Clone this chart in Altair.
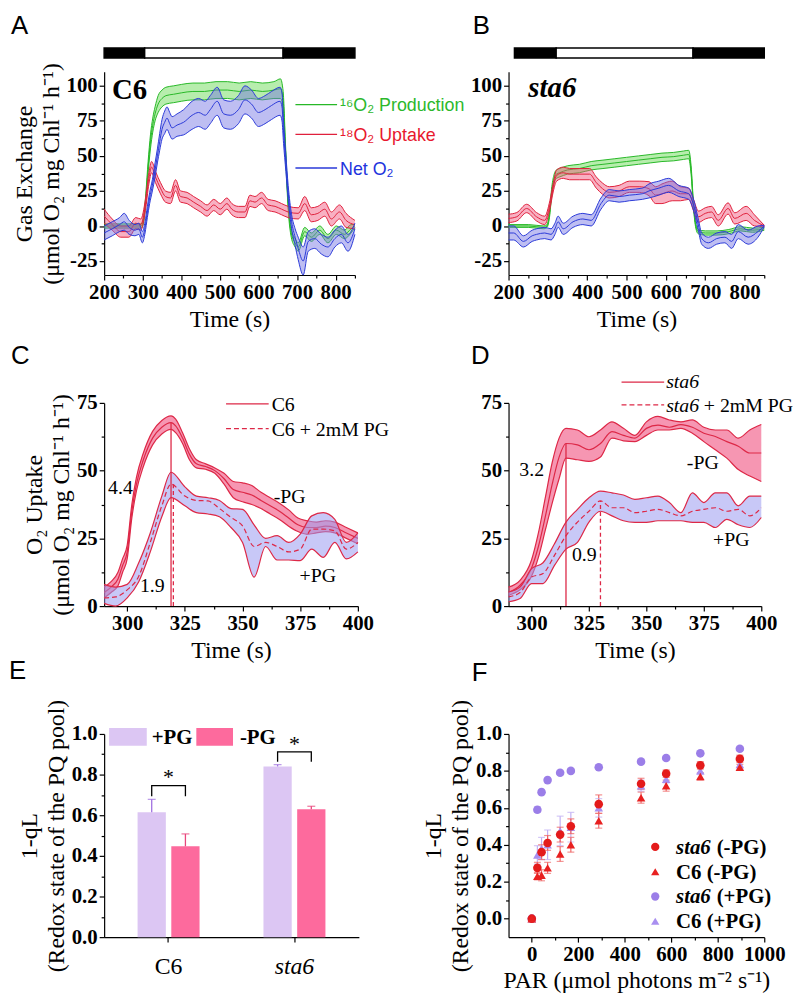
import altair as alt
import pandas as pd

SERIF = "Liberation Serif"
SANS = "Liberation Sans"

# ============================ DATA ============================
# ---- Panel A (C6) : time (s), mean, half-width of each band ----
a_g_t = [200, 250, 296, 302, 308, 314, 320, 326, 332, 340, 350, 360, 380, 400, 430, 460, 490, 520, 550, 580,
         610, 640, 657, 664, 670, 677, 685, 695, 703, 720, 737, 759, 780, 802, 823, 840, 850]
a_g_m = [0, 0, 0, 4, 20, 42, 60, 72, 80, 87, 91, 93, 94, 95, 96, 96, 97, 97, 96, 97,
         96, 97, 98, 90, 55, 15, -5, -12, -15, -4, -8, -3, -9, -3, -6, -2, 0]
a_g_h = [1.5, 1.5, 1.5, 2, 3, 4, 5, 5, 5, 6, 6, 6, 6, 6, 6, 6, 6, 6, 6, 6,
         6, 6, 7, 6, 4, 3, 3, 3, 3, 3, 3, 3, 3, 3, 3, 3, 1]

a_b_t = [200, 221, 240, 252, 265, 280, 290, 299, 306, 312, 318, 325, 332, 338, 344, 350, 357, 363, 370, 376,
         389, 406, 428, 445, 462, 475, 493, 510, 527, 548, 565, 582, 600, 617, 634, 656, 661, 665, 671, 677,
         686, 695, 703, 716, 729, 746, 763, 780, 798, 815, 832, 850]
a_b_m = [-5, -2, 1, 3, -1, -3, -2, -8, -1, 10, 20, 29, 40, 50, 60, 69, 74, 77, 73, 70,
         72, 74, 79, 81, 79, 83, 89, 80, 79, 83, 90, 87, 81, 83, 86, 89, 85, 67, 45, 24,
         3, -8, -16, -25, -11, -9, -13, -15, -9, -6, -12, -2]
a_b_h = [5, 5, 5, 6, 5, 4, 4, 4, 4, 4, 4, 4, 5, 5, 6, 7, 8, 8, 8, 8,
         8, 9, 10, 10, 10, 10, 10, 10, 10, 10, 10, 10, 10, 10, 10, 10, 10, 8, 6, 5,
         5, 6, 8, 10, 7, 7, 7, 7, 6, 6, 6, 4]

a_r_t = [200, 221, 243, 264, 282, 295, 307, 316, 323, 333, 346, 359, 372, 385, 398, 415, 432, 450, 467, 484,
         501, 518, 531, 548, 565, 578, 591, 608, 625, 643, 660, 677, 703, 720, 737, 754, 772, 789, 810, 827, 850]
a_r_m = [7, 1, -4, -4, 2, 1, 15, 34, 42, 35, 27, 21, 20, 29, 21, 20, 17, 14, 11, 15,
         12, 16, 12, 10, 10, 18, 17, 20, 15, 14, 12, 10, 9, 16, 8, 9, 12, 5, 10, 4, 1]
a_r_h = [5, 4, 4, 4, 4, 4, 4, 4, 4, 4, 4, 4, 4, 4, 4, 4, 4, 4, 4, 4,
         4, 4, 4, 4, 4, 4, 4, 4, 4, 4, 4, 4, 4, 5, 5, 5, 5, 5, 5, 5, 3]

# ---- Panel B (sta6) ----
b_g_t = [200, 250, 290, 298, 304, 310, 316, 322, 330, 350, 380, 410, 440, 470, 500, 530, 560, 590, 620, 645,
         658, 664, 670, 676, 682, 700, 730, 760, 790, 820, 850]
b_g_m = [0, 0, -1, 0, 8, 25, 34, 37, 38, 40, 41, 43, 44, 45, 46, 47, 48, 49, 49.5, 50.5,
         51, 40, 15, 0, -4, -5, -5, -4, -2, -3, -2]
b_g_h = [1, 1, 1, 1, 2, 3, 3, 3, 3, 3, 3, 3, 3, 3, 3, 3, 3, 3, 3, 3,
         3, 3, 2, 1.5, 1.5, 1.5, 1.5, 1.5, 1.5, 1.5, 1]

b_r_t = [200, 221, 246, 271, 292, 305, 314, 322, 339, 355, 381, 406, 423, 439, 456, 481, 507, 532, 557, 574,
         590, 616, 637, 658, 670, 683, 700, 716, 733, 758, 775, 804, 825, 850]
b_r_m = [5.4, 6.6, 12.5, 6.6, 4, 15, 28, 36, 38, 37, 37, 37, 31, 26.6, 24, 25, 28, 28, 26.6, 22,
         23, 25, 23, 23, 15, 6.6, 9, 10, 4, 12.5, 5.4, 9, 4, 0]
b_r_h = [3, 3, 3, 3, 3, 3, 3, 4, 4, 4, 4, 4, 4, 4, 4, 4, 4, 4, 5, 6,
         7, 7, 5, 4, 4, 4, 4, 4, 4, 4, 4, 5, 4, 0.5]

b_b_t = [200, 213, 238, 260, 271, 292, 308, 318, 326, 339, 364, 389, 410, 435, 456, 481, 507, 540, 557, 582,
         607, 633, 658, 667, 675, 683, 691, 708, 729, 750, 767, 784, 809, 834, 850]
b_b_m = [-5, -5, -11, -7, -6, -5, -6, -2, 3, -2, 3, 5, 4, 16, 22, 21, 22, 23, 25, 27,
         29, 25, 23, 18, 10, 0, -9, -12, -9, -8, -11, -4, -8, -4, 0]
b_b_h = [5, 5, 4, 4, 4, 4, 4, 4, 4, 4, 4, 4, 4, 4, 4, 4, 4, 4, 5, 5,
         5, 4, 4, 4, 4, 4, 4, 4, 4, 4, 5, 5, 5, 4, 0.5]

# dark / light bar above A and B
a_bar_t0 = [200, 305, 664]
a_bar_t1 = [305, 664, 850]
b_bar_t0 = [215, 321, 669]
b_bar_t1 = [321, 669, 850]
bar_fill = ["black", "white", "black"]

# ---- Panel C (C6 O2 uptake) ----
c_m_t = [290, 293, 296, 298, 300, 302, 304, 307, 311, 315, 319, 321, 324, 327, 330, 334, 338, 342, 346, 350,
         354, 358, 362, 366, 370, 374, 378, 382, 386, 390, 395, 400]
c_m_m = [5, 7, 10, 15, 20, 35, 45, 54, 62, 66, 67.7, 66.5, 62, 56, 52.5, 51.5, 50, 47, 43, 42,
         41, 39, 37, 35, 32.5, 30, 29, 29, 29.5, 29, 27, 25]
c_m_h = [2, 2, 2.5, 2.5, 2.5, 2.5, 2.5, 2.5, 2.5, 2.5, 2.5, 2.5, 2, 2, 1.5, 1, 1, 2, 3, 3.5,
         3.5, 3, 3, 3, 3, 2.5, 2.5, 2, 2, 2, 2, 2]
c_p_t = [290, 295, 300, 305, 310, 315, 319, 325, 330, 335, 340, 345, 350, 355, 360, 365, 370, 375, 380, 385, 390, 395, 400]
c_p_m = [3, 3.4, 6, 11, 23.5, 37, 45, 40.6, 39, 38.8, 36, 32.7, 29.6, 22, 23.5, 22, 20, 21, 28.4, 28.4, 27.8, 21, 23.5]
c_p_lo = [1, 0, 3, 9, 20, 33, 40, 37, 34.5, 34, 33, 29, 23.5, 10.7, 22, 17, 17, 16.8, 21, 18, 23.5, 17.4, 20]
c_p_hi = [8, 7, 8, 16, 27, 40.6, 49.4, 44, 40.6, 40, 39, 36, 35.7, 30, 25, 26, 23.5, 26.6, 33.3, 34.5, 32, 23.5, 27]
c_ann_txt = ["4.4", "1.9", "-PG", "+PG"]
c_ann_t = [291.7, 305.5, 363.5, 374.7]
c_ann_y = [41.4, 5.1, 38, 8.8]
c_vl_t = [319, 320]
c_vl_top = [67.7, 45]

# ---- Panel D (sta6 O2 uptake) ----
d_m_t = [290, 295, 300, 303, 306, 309, 312, 315, 320, 325, 330, 335, 340, 345, 350, 355, 360, 365, 370, 375,
         380, 385, 390, 395, 400]
d_m_m = [5, 7.7, 14, 22, 33, 45, 55, 60, 59.5, 57.7, 60, 64.4, 63, 62, 65.6, 66.8, 66, 67, 66, 63.8,
         62.6, 60.7, 59, 56.5, 56.5]
d_m_lo = [4, 6, 11, 18, 28, 38, 47, 54.6, 54, 53.4, 55, 62, 61, 60.7, 63, 65, 65, 65.6, 63.8, 60.7,
          57.7, 54.6, 50.4, 48, 46]
d_m_hi = [7, 9.5, 17, 27, 40, 53, 62, 65.6, 65, 62.5, 65, 68, 65.6, 63, 68, 70, 68.7, 68, 68.7, 66,
          65, 65, 62, 65, 67]
d_p_t = [290, 295, 300, 305, 310, 315, 320, 325, 330, 335, 340, 345, 350, 355, 360, 365, 370, 375, 380, 385, 390, 395, 400]
d_p_m = [3.4, 5, 10.7, 12, 18.7, 26, 31, 35, 38.8, 36.3, 36.3, 34.5, 35, 35.7, 34.5, 33.3, 35, 35.7, 36.3, 35, 35.7, 33.3, 36.3]
d_p_lo = [1.6, 2.8, 8.3, 8.3, 15, 21, 23.5, 31, 35, 33.3, 31.5, 30.9, 30.9, 31.5, 31.5, 31.5, 30.9, 30.9, 29, 32, 30, 29, 32.7]
d_p_hi = [5.2, 7, 13.8, 16, 23, 31, 35.7, 40, 42.4, 41.8, 41, 39.4, 40, 40.6, 38.2, 34.5, 41.8, 38.2, 41.8, 41.8, 37, 40.6, 40.6]
d_ann_txt = ["3.2", "0.9", "-PG", "+PG"]
d_ann_t = [294.7, 317.6, 367.6, 379]
d_ann_y = [48, 16.8, 50.5, 22]
d_vl_t = [315, 330]
d_vl_top = [60, 38.8]

# ---- Panel E (bars) ----
e_cat = ["C6", "C6", "sta6", "sta6"]
e_grp = ["+PG", "-PG", "+PG", "-PG"]
e_val = [0.615, 0.447, 0.840, 0.629]
e_err = [0.063, 0.061, 0.009, 0.015]
e_bar_col = ["#dcc6f3", "#fd6a9d", "#dcc6f3", "#fd6a9d"]
e_err_col = ["#a070e0", "#e8477c", "#a070e0", "#e8477c"]
br_cat = ["C6", "C6", "C6", "C6", "sta6", "sta6", "sta6", "sta6"]
br_grp = ["+PG", "+PG", "-PG", "-PG", "+PG", "+PG", "-PG", "-PG"]
br_y = [0.693, 0.746, 0.746, 0.693, 0.863, 0.912, 0.912, 0.863]
br_ord = [0, 1, 2, 3, 0, 1, 2, 3]
star_cat = ["C6", "sta6"]
star_y = [0.752, 0.918]

# ---- Panel F (1-qL vs PAR) ----
f_par = [0, 24, 42, 68, 122, 168, 288, 470, 578, 725, 895]
f_sta6_minus = [0, 0.275, 0.36, 0.41, 0.455, 0.50, 0.62, 0.73, 0.785, 0.83, 0.865]
f_sta6_minus_e = [0.01, 0.03, 0.04, 0.04, 0.04, 0.04, 0.05, 0.03, 0.02, 0.02, 0.02]
f_c6_minus = [0, 0.23, 0.235, 0.275, 0.35, 0.40, 0.53, 0.655, 0.72, 0.77, 0.82]
f_c6_minus_e = [0.01, 0.02, 0.03, 0.03, 0.04, 0.04, 0.04, 0.03, 0.03, 0.02, 0.015]
f_sta6_plus = [0, 0.59, 0.685, 0.75, 0.79, 0.80, 0.82, 0.85, 0.87, 0.895, 0.92]
f_sta6_plus_e = [0.01, 0.015, 0.01, 0.01, 0.01, 0.01, 0.01, 0.01, 0.01, 0.01, 0.01]
f_c6_plus = [0, 0.345, 0.38, 0.40, 0.475, 0.495, 0.60, 0.72, 0.755, 0.80, 0.835]
f_c6_plus_e = [0.01, 0.05, 0.06, 0.08, 0.08, 0.08, 0.05, 0.03, 0.02, 0.02, 0.02]

# axis ticks
a_xticks = [200, 250, 300, 350, 400, 450, 500, 550, 600, 650, 700, 750, 800, 850]
a_xlab = [200, 300, 400, 500, 600, 700, 800]
a_yticks = [-25, -12.5, 0, 12.5, 25, 37.5, 50, 62.5, 75, 87.5, 100]
a_ylab = [-25, 0, 25, 50, 75, 100]
c_xticks = [300, 312.5, 325, 337.5, 350, 362.5, 375, 387.5, 400]
c_xlab = [300, 325, 350, 375, 400]
c_yticks = [0, 12.5, 25, 37.5, 50, 62.5, 75]
c_ylab = [0, 25, 50, 75]
q_yticks = [0, 0.1, 0.2, 0.3, 0.4, 0.5, 0.6, 0.7, 0.8, 0.9, 1.0]
q_ylab = [0, 0.2, 0.4, 0.6, 0.8, 1.0]
f_xticks = [0, 100, 200, 300, 400, 500, 600, 700, 800, 900, 1000]
f_xlab = [0, 200, 400, 600, 800, 1000]

# ============================ HELPERS ============================
GREEN_L, GREEN_F = "#27b827", "#5fd84a"
RED_L, RED_F = "#e0203c", "#f05078"
BLUE_L, BLUE_F = "#2a3ad8", "#6f6fe2"
UP_RED, UP_PINK, UP_LAV = "#dd2847", "#f0507e", "#9a9af0"
LET = -94  # x position of panel letters (relative to the plot)

dummy = pd.DataFrame({"d": [0]})


def nums(v):
    return "[" + ",".join(repr(x) for x in v) + "]"


def lin_axis(values, labeled, fmt, title, **kw):
    test = f"indexof({nums(labeled)}, datum.value) >= 0"
    lab = (f"{test} ? (datum.value < 0 ? '-' + format(-datum.value, '{fmt}') : "
           f"format(datum.value, '{fmt}')) : ''")
    return alt.Axis(values=values, labelExpr=lab,
                    tickSize={"condition": {"test": test, "value": 5}, "value": 3},
                    title=title, **kw)


def make_xy(xdom, ydom, xaxis, yaxis):
    xs = alt.Scale(domain=xdom, nice=False, zero=False)
    ys = alt.Scale(domain=ydom, nice=False, zero=False)

    def X(f):
        return alt.X(f"{f}:Q", scale=xs, axis=xaxis)

    def Y(f):
        return alt.Y(f"{f}:Q", scale=ys, axis=yaxis)
    return X, Y


def band_layers(t, m, lo, hi, X, Y, fill, fop, stroke, sw=1.0, dash=None):
    df = pd.DataFrame({"t": t, "m": m, "lo": lo, "hi": hi})
    base = alt.Chart(df)
    out = [base.mark_area(color=fill, opacity=fop, interpolate="monotone")
           .encode(x=X("t"), y=Y("lo"), y2="hi")]
    for f in ("lo", "hi"):
        out.append(base.mark_line(color=stroke, strokeWidth=sw, interpolate="monotone")
                   .encode(x=X("t"), y=Y(f)))
    mk = dict(color=stroke, strokeWidth=sw, interpolate="monotone")
    if dash:
        mk["strokeDash"] = dash
    out.append(base.mark_line(**mk).encode(x=X("t"), y=Y("m")))
    return out


def mh(m, h):
    return [a - b for a, b in zip(m, h)], [a + b for a, b in zip(m, h)]


def ptext(txt, x, y, size, color="black", font=SERIF, weight="normal", style="normal",
          align="left", baseline="alphabetic"):
    return alt.Chart(dummy).mark_text(text=txt, fontSize=size, color=color, font=font,
                                      fontWeight=weight, fontStyle=style, align=align,
                                      baseline=baseline).encode(x=alt.value(x), y=alt.value(y))


def pline(x1, x2, y, color, sw=1.3, dash=None):
    mk = dict(color=color, strokeWidth=sw)
    if dash:
        mk["strokeDash"] = dash
    return alt.Chart(dummy).mark_rule(**mk).encode(x=alt.value(x1), x2=alt.value(x2), y=alt.value(y))


def light_bar(t0, t1, X):
    df = pd.DataFrame({"t0": t0, "t1": t1, "c": bar_fill})
    return alt.Chart(df).mark_rect(stroke="black", strokeWidth=1.5).encode(
        x=X("t0"), x2="t1", y=alt.value(-24), y2=alt.value(-14),
        color=alt.Color("c:N", scale=None))


GAS_TITLE = ["Gas Exchange", "(μmol O₂ mg Chl⁻¹ h⁻¹)"]
UP_TITLE = ["O₂ Uptake", "(μmol O₂ mg Chl⁻¹ h⁻¹)"]
Q_TITLE = ["1-qL", "(Redox state of the PQ pool)"]
XT_PAD = 5
YT_PAD = 3

# ============================ PANEL A ============================
XA, YA = make_xy([200, 850], [-35, 110],
                 lin_axis(a_xticks, a_xlab, "d", "Time (s)", titlePadding=XT_PAD),
                 lin_axis(a_yticks, a_ylab, "d", GAS_TITLE, titlePadding=YT_PAD))
layA = []
layA += band_layers(a_g_t, a_g_m, *mh(a_g_m, a_g_h), XA, YA, GREEN_F, 0.45, GREEN_L)
layA += band_layers(a_r_t, a_r_m, *mh(a_r_m, a_r_h), XA, YA, RED_F, 0.45, RED_L)
layA += band_layers(a_b_t, a_b_m, *mh(a_b_m, a_b_h), XA, YA, BLUE_F, 0.45, BLUE_L)
layA += [light_bar(a_bar_t0, a_bar_t1, XA),
         ptext("A", LET, -38, 26, font=SANS),
         ptext("C6", 8, 27, 29, weight="bold"),
         pline(193, 235, 33, GREEN_L), pline(193, 235, 63, RED_L), pline(193, 235, 97, BLUE_L),
         ptext("¹⁶O₂ Production", 238, 40, 18, color="#2cb82c", font=SANS),
         ptext("¹⁸O₂ Uptake", 238, 70, 18, color="#e8182e", font=SANS),
         ptext("Net O₂", 238, 104, 18, color="#2233dd", font=SANS)]
pA = alt.layer(*layA).properties(width=253, height=205)

# ============================ PANEL B ============================
XB, YB = make_xy([200, 850], [-35, 110],
                 lin_axis(a_xticks, a_xlab, "d", "Time (s)", titlePadding=XT_PAD),
                 lin_axis(a_yticks, a_ylab, "d", ""))
layB = []
layB += band_layers(b_g_t, b_g_m, *mh(b_g_m, b_g_h), XB, YB, GREEN_F, 0.45, GREEN_L)
layB += band_layers(b_r_t, b_r_m, *mh(b_r_m, b_r_h), XB, YB, RED_F, 0.45, RED_L)
layB += band_layers(b_b_t, b_b_m, *mh(b_b_m, b_b_h), XB, YB, BLUE_F, 0.45, BLUE_L)
layB += [light_bar(b_bar_t0, b_bar_t1, XB),
         ptext("B", -36, -38, 26, font=SANS),
         ptext("sta6", 20, 25, 29, weight="bold", style="italic")]
pB = alt.layer(*layB).properties(width=258, height=205)


# ============================ PANEL C / D ============================
def uptake_panel(mt, mm, mlo, mhi, pt, pm, plo, phi, ann_txt, ann_t, ann_y, vl_t, vl_top, ytitle):
    X, Y = make_xy([290, 400], [0, 75],
                   lin_axis(c_xticks, c_xlab, "d", "Time (s)", titlePadding=XT_PAD),
                   lin_axis(c_yticks, c_ylab, "d", ytitle, titlePadding=YT_PAD))
    lay = []
    lay += band_layers(mt, mm, mlo, mhi, X, Y, UP_PINK, 0.6, UP_RED, sw=1.2)
    lay += band_layers(pt, pm, plo, phi, X, Y, UP_LAV, 0.55, UP_RED, sw=1.2, dash=[5, 3])
    vdf = pd.DataFrame({"t": vl_t, "top": vl_top, "b": [0, 0]})
    lay.append(alt.Chart(vdf.iloc[[0]]).mark_rule(color=UP_RED, strokeWidth=1.3)
               .encode(x=X("t"), y=Y("b"), y2="top"))
    lay.append(alt.Chart(vdf.iloc[[1]]).mark_rule(color=UP_RED, strokeWidth=1.3, strokeDash=[4, 3])
               .encode(x=X("t"), y=Y("b"), y2="top"))
    adf = pd.DataFrame({"t": ann_t, "y": ann_y, "s": ann_txt})
    lay.append(alt.Chart(adf).mark_text(font=SERIF, fontSize=20, align="left", baseline="alphabetic",
                                        color="black")
               .encode(x=X("t"), y=Y("y"), text="s:N"))
    return lay


layC = uptake_panel(c_m_t, c_m_m, *mh(c_m_m, c_m_h), c_p_t, c_p_m, c_p_lo, c_p_hi,
                    c_ann_txt, c_ann_t, c_ann_y, c_vl_t, c_vl_top, UP_TITLE)
layC += [ptext("C", LET, -39, 26, font=SANS),
         pline(123, 166, 1, UP_RED), pline(123, 166, 26, UP_RED, dash=[5, 3]),
         ptext("C6", 169, 8, 20), ptext("C6 + 2mM PG", 169, 33, 20)]
pC = alt.layer(*layC).properties(width=256, height=205)

layD = uptake_panel(d_m_t, d_m_m, d_m_lo, d_m_hi, d_p_t, d_p_m, d_p_lo, d_p_hi,
                    d_ann_txt, d_ann_t, d_ann_y, d_vl_t, d_vl_top, "")
layD += [ptext("D", -38, -39, 26, font=SANS),
         pline(114, 157, -21, UP_RED), pline(114, 157, 2, UP_RED, dash=[5, 3]),
         ptext("sta6", 159, -15, 20, style="italic"),
         ptext("sta6", 159, 9, 20, style="italic"), ptext("+ 2mM PG", 197, 9, 20)]
pD = alt.layer(*layD).properties(width=255, height=205)

# ============================ PANEL E ============================
e_df = pd.DataFrame({"cat": e_cat, "grp": e_grp, "val": e_val, "err": e_err,
                     "col": e_bar_col, "ecol": e_err_col})
e_df["hi"] = e_df["val"] + e_df["err"]
xE = alt.X("cat:N", scale=alt.Scale(domain=["C6", "sta6"], paddingInner=0, paddingOuter=0.0118),
           axis=alt.Axis(title="", labelAngle=0, labelFontSize=24, labelFontWeight="normal",
                         labelPadding=13,
                         labelFontStyle={"condition": {"test": "datum.value == 'sta6'", "value": "italic"},
                                         "value": "normal"}))
oE = alt.XOffset("grp:N", scale=alt.Scale(domain=["+PG", "-PG"], paddingInner=0.162, paddingOuter=0.948))
ysE = alt.Scale(domain=[0, 1.0], nice=False, zero=False)
yaxE = lin_axis(q_yticks, q_ylab, ".1f", Q_TITLE, titlePadding=YT_PAD)


def YE(f):
    return alt.Y(f"{f}:Q", scale=ysE, axis=yaxE)


baseE = alt.Chart(e_df)
br_df = pd.DataFrame({"cat": br_cat, "grp": br_grp, "y": br_y, "o": br_ord})
st_df = pd.DataFrame({"cat": star_cat, "y": star_y})
layE = [
    baseE.mark_bar().encode(x=xE, xOffset=oE, y=YE("val"), color=alt.Color("col:N", scale=None)),
    baseE.mark_rule(strokeWidth=1.3).encode(x=xE, xOffset=oE, y=YE("val"), y2="hi",
                                             color=alt.Color("ecol:N", scale=None)),
    baseE.mark_tick(orient="horizontal", size=8, thickness=1.3).encode(
        x=xE, xOffset=oE, y=YE("hi"), color=alt.Color("ecol:N", scale=None)),
    alt.Chart(br_df).mark_line(color="black", strokeWidth=1.3).encode(
        x=xE, xOffset=oE, y=YE("y"), order="o:Q", detail="cat:N"),
    alt.Chart(st_df).mark_text(text="*", fontSize=22, font=SERIF, baseline="alphabetic").encode(
        x=xE, y=YE("y")),
    alt.Chart(dummy).mark_rect(color="#dcc6f3").encode(x=alt.value(5), x2=alt.value(43),
                                                       y=alt.value(-6), y2=alt.value(12)),
    alt.Chart(dummy).mark_rect(color="#fd6a9d").encode(x=alt.value(93), x2=alt.value(130),
                                                       y=alt.value(-6), y2=alt.value(12)),
    ptext("+PG", 48, 10, 21, weight="bold"),
    ptext("-PG", 137, 10, 21, weight="bold"),
    ptext("E", LET - 2, -55, 26, font=SANS),
]
pE = alt.layer(*layE).properties(width=257, height=205)

# ============================ PANEL F ============================
series = [
    ("sta6 (+PG)", f_sta6_plus, f_sta6_plus_e, "#9b7ee8", "#b8a2f0", "circle"),
    ("C6 (+PG)", f_c6_plus, f_c6_plus_e, "#a98ff0", "#c2b0f4", "triangle-up"),
    ("sta6 (-PG)", f_sta6_minus, f_sta6_minus_e, "#e41b1b", "#f06060", "circle"),
    ("C6 (-PG)", f_c6_minus, f_c6_minus_e, "#e82020", "#f06a6a", "triangle-up"),
]
rows = []
for k, (name, vals, errs, col, ecol, shp) in enumerate(series):
    for p, v, e in zip(f_par, vals, errs):
        rows.append({"s": name, "k": k, "par": p, "v": v, "lo": v - e, "hi": v + e,
                     "col": col, "ecol": ecol, "shp": shp})
f_df = pd.DataFrame(rows)
XF, YF = make_xy([-100, 1000], [-0.1, 1.0],
                 lin_axis(f_xticks, f_xlab, "d", "PAR (μmol photons m⁻² s⁻¹)", titlePadding=4),
                 lin_axis(q_yticks, q_ylab, ".1f", Q_TITLE, titlePadding=YT_PAD))
baseF = alt.Chart(f_df)
layF = [
    baseF.mark_rule(strokeWidth=1.2).encode(x=XF("par"), y=YF("lo"), y2="hi",
                                             color=alt.Color("ecol:N", scale=None)),
    baseF.mark_tick(orient="horizontal", size=7, thickness=1.2).encode(
        x=XF("par"), y=YF("lo"), color=alt.Color("ecol:N", scale=None)),
    baseF.mark_tick(orient="horizontal", size=7, thickness=1.2).encode(
        x=XF("par"), y=YF("hi"), color=alt.Color("ecol:N", scale=None)),
    baseF.mark_point(filled=True, size=75, opacity=1).encode(
        x=XF("par"), y=YF("v"), color=alt.Color("col:N", scale=None),
        shape=alt.Shape("shp:N", scale=None), order="k:Q"),
    ptext("F", -37, -53, 26, font=SANS),
]
leg_rows = [("sta6", "(-PG)", "#e41b1b", "circle", 114),
            ("C6", "(-PG)", "#e82020", "triangle-up", 139),
            ("sta6", "(+PG)", "#9b7ee8", "circle", 164),
            ("C6", "(+PG)", "#a98ff0", "triangle-up", 189)]
for nm, suf, col, shp, yy in leg_rows:
    layF.append(alt.Chart(dummy).mark_point(filled=True, size=70, color=col, shape=shp, opacity=1)
                .encode(x=alt.value(148), y=alt.value(yy)))
    if nm == "sta6":
        layF.append(ptext("sta6", 169, yy + 7, 21, weight="bold", style="italic"))
        layF.append(ptext(suf, 210, yy + 7, 21, weight="bold"))
    else:
        layF.append(ptext("C6 " + suf, 169, yy + 7, 21, weight="bold"))
pF = alt.layer(*layF).properties(width=258, height=205)

# ============================ COMPOSE ============================
chart = alt.concat(pA, pB, pC, pD, pE, pF, columns=2,
                   spacing={"row": 129, "column": 151}, bounds="flush").properties(padding=0)
chart = chart.configure_view(stroke="transparent").configure_axis(
    labelFont=SERIF, labelFontSize=21, labelFontWeight="bold", labelColor="black",
    titleFont=SERIF, titleFontSize=24, titleFontWeight="normal", titleColor="black",
    domainColor="black", domainWidth=1.2, tickColor="black", tickWidth=1.2, grid=False,
    labelFlush=False, labelOverlap=False, titleLineHeight=27, labelPadding=2)

chart.save("out.html", embed_options={"renderer": "svg", "actions": False})
